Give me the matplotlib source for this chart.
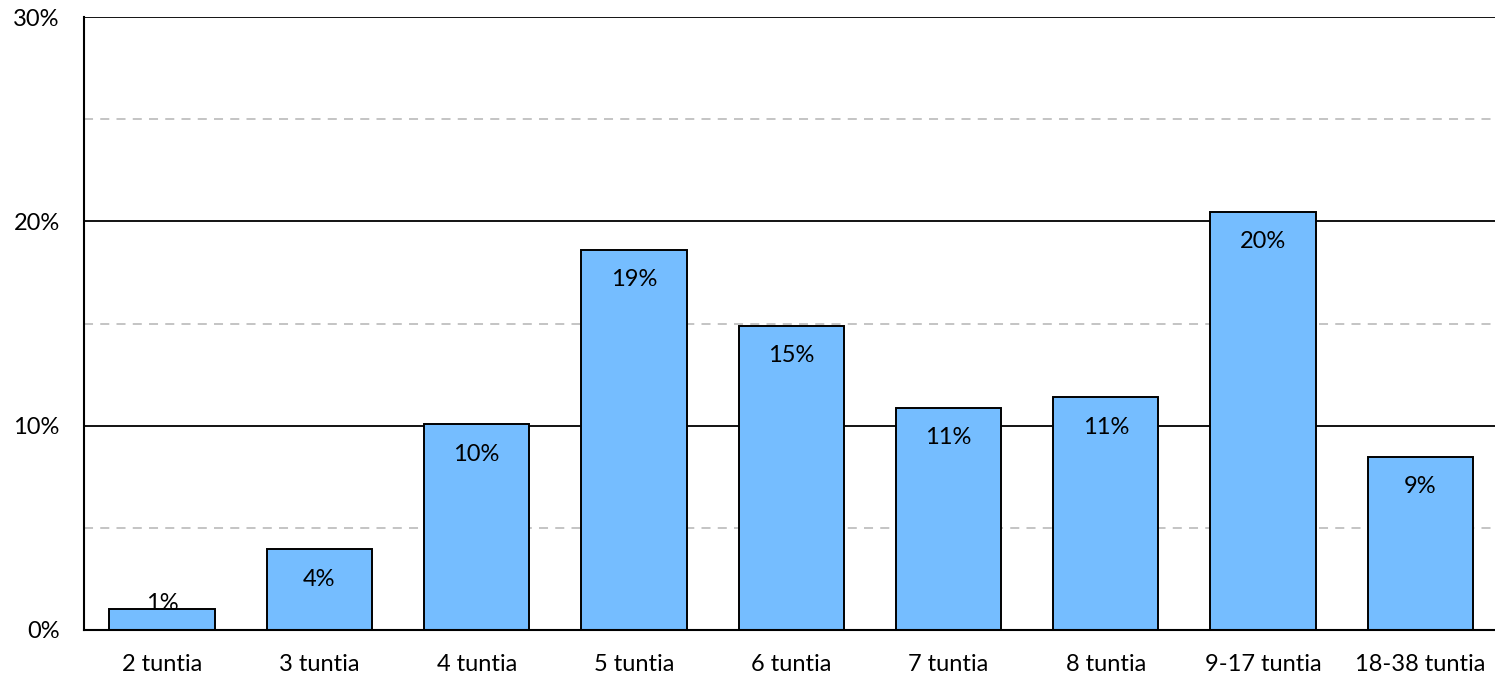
import matplotlib
matplotlib.use("Agg")
import matplotlib.pyplot as plt
from matplotlib.ticker import FixedLocator

categories = ["2 tuntia", "3 tuntia", "4 tuntia", "5 tuntia", "6 tuntia",
              "7 tuntia", "8 tuntia", "9-17 tuntia", "18-38 tuntia"]
values = [1.03, 3.96, 10.08, 18.6, 14.88, 10.87, 11.4, 20.46, 8.47]
labels = ["1%", "4%", "10%", "19%", "15%", "11%", "11%", "20%", "9%"]
yticks = [0, 10, 20, 30]
ytick_labels = ["0%", "10%", "20%", "30%"]
minor_grid = [5, 15, 25]

plt.rcParams['font.family'] = ['Lato', 'DejaVu Sans']

W, H = 1495, 678
fig = plt.figure(figsize=(W / 100, H / 100), dpi=100)
left, right, top, bottom = 83.5, 1499, 17, 630
ax = fig.add_axes([left / W, 1 - bottom / H, (right - left) / W, (bottom - top) / H])

x = list(range(len(categories)))
ax.set_xlim(-0.5, len(categories) - 0.5)
ax.set_ylim(0, 30)

for g in minor_grid:
    ax.axhline(g, color="#BFBFBF", lw=1.3, ls=(0, (5, 4)), zorder=1)
for g in [10, 20, 30]:
    ax.axhline(g, color="black", lw=1.3, zorder=1)

ax.bar(x, values, width=0.67, color="#75BDFF", edgecolor="black", linewidth=1.4, zorder=2)

for xi, v, lab in zip(x, values, labels):
    y = max(v - 1.47, 1.32)
    ax.text(xi, y, lab, ha="center", va="center", fontsize=17, color="black", zorder=3)

ax.set_xticks(x)
ax.set_xticklabels(categories, fontsize=17)
ax.yaxis.set_major_locator(FixedLocator(yticks))
ax.set_yticklabels(ytick_labels, fontsize=17)
ax.tick_params(axis="both", length=0)
ax.tick_params(axis="x", pad=17)
ax.tick_params(axis="y", pad=17)

for s in ["top", "right"]:
    ax.spines[s].set_visible(False)
ax.spines["left"].set_linewidth(1.5)
ax.spines["bottom"].set_linewidth(1.5)

fig.savefig("out.png", dpi=100)
